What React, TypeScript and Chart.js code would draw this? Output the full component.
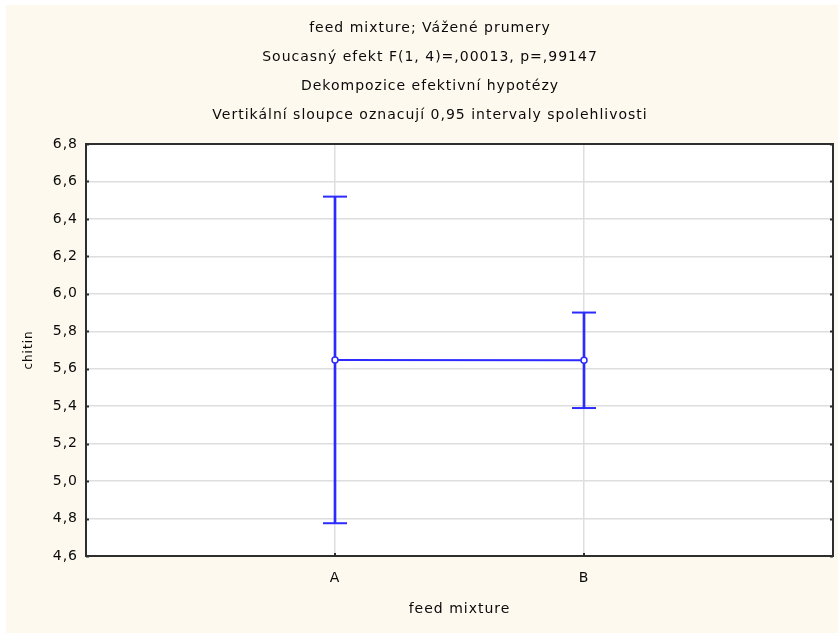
import { useEffect, useRef } from 'react';
import { Chart, registerables } from 'chart.js';

Chart.register(...registerables);

const titleLines = [
  'feed mixture; Vážené prumery',
  'Soucasný efekt F(1, 4)=,00013, p=,99147',
  'Dekompozice efektivní hypotézy',
  'Vertikální sloupce oznacují 0,95 intervaly spolehlivosti',
];
const categories = ['A', 'B'];
const means = [5.647, 5.645];
const lowerCI = [4.775, 5.39];
const upperCI = [6.519, 5.9];
const xTitle = 'feed mixture';
const yTitle = 'chitin';
const yMin = 4.6;
const yMax = 6.8;
const yStep = 0.2;

const BLUE = '#2b2bff';
const GRID = '#dedede';
const TEXT = '#0a0a0a';
const FONT = "'DejaVu Sans', Verdana, sans-serif";

const letterSpacingPlugin = {
  id: 'letterSpacing',
  beforeLayout(chart: any) {
    chart.ctx.letterSpacing = '1px';
  },
  beforeDraw(chart: any) {
    chart.ctx.letterSpacing = '1px';
    const { ctx, chartArea } = chart;
    ctx.save();
    ctx.fillStyle = '#ffffff';
    ctx.fillRect(chartArea.left, chartArea.top, chartArea.right - chartArea.left, chartArea.bottom - chartArea.top);
    ctx.restore();
  },
};

const framePlugin = {
  id: 'frame',
  afterDraw(chart: any) {
    const { ctx, chartArea, scales } = chart;
    const { left, top, right, bottom } = chartArea;
    ctx.save();
    ctx.strokeStyle = '#2e2e2e';
    ctx.lineWidth = 2;
    ctx.strokeRect(left, top, right - left, bottom - top);
    ctx.beginPath();
    scales.y.ticks.forEach((t: any) => {
      const y = Math.round(scales.y.getPixelForValue(t.value)) + 0.5;
      ctx.moveTo(left, y);
      ctx.lineTo(left + 3, y);
      ctx.moveTo(right - 3, y);
      ctx.lineTo(right, y);
    });
    categories.forEach((_, i) => {
      const x = Math.round(scales.x.getPixelForValue(i + 1));
      ctx.moveTo(x, bottom);
      ctx.lineTo(x, bottom - 3);
    });
    ctx.stroke();
    ctx.restore();
  },
};

export default function App() {
  const ref = useRef<HTMLCanvasElement | null>(null);

  useEffect(() => {
    if (!ref.current) return;
    const meanPts = categories.map((_, i) => ({ x: i + 1, y: means[i] }));
    const whiskers = categories.map((_, i) => ({ x: i + 1, y: [lowerCI[i], upperCI[i]] }));
    const caps = [
      ...categories.map((_, i) => ({ x: i + 1, y: lowerCI[i] })),
      ...categories.map((_, i) => ({ x: i + 1, y: upperCI[i] })),
    ];

    const chart = new Chart(ref.current, {
      type: 'line',
      data: {
        datasets: [
          {
            type: 'line',
            label: 'means',
            data: meanPts,
            borderColor: BLUE,
            borderWidth: 2,
            pointRadius: 3,
            pointBackgroundColor: '#ffffff',
            pointBorderColor: BLUE,
            pointBorderWidth: 1.5,
            order: 0,
          },
          {
            type: 'line',
            label: 'caps',
            data: caps,
            showLine: false,
            pointStyle: 'line',
            pointRadius: 12,
            pointBorderWidth: 2,
            borderColor: BLUE,
            borderWidth: 2,
            order: 1,
          },
          {
            type: 'bar',
            label: 'ci',
            data: whiskers as any,
            backgroundColor: BLUE,
            borderWidth: 0,
            barThickness: 2,
            order: 2,
          },
        ] as any,
      },
      options: {
        responsive: false,
        animation: false,
        layout: { autoPadding: false, padding: { left: 21, right: 5, top: 0, bottom: 0 } },
        plugins: {
          legend: { display: false },
          tooltip: { enabled: false },
          title: {
            display: true,
            text: titleLines,
            color: TEXT,
            font: { family: FONT, size: 14, weight: 'normal', lineHeight: '29px' } as any,
            padding: { top: 8.5, bottom: 14.5 },
          },
        },
        scales: {
          x: {
            type: 'linear',
            min: 0,
            max: 3,
            offset: false,
            afterFit: (s: any) => {
              s.height = 77;
              s.paddingLeft = 0;
              s.paddingRight = 0;
            },
            ticks: {
              stepSize: 1,
              autoSkip: false,
              padding: 14,
              color: TEXT,
              font: { family: FONT, size: 14 },
              callback: (v: any) => categories[Number(v) - 1] ?? '',
            },
            grid: {
              offset: false,
              drawTicks: false,
              color: (c: any) => (c.tick && c.tick.value >= 1 && c.tick.value <= categories.length ? GRID : 'rgba(0,0,0,0)'),
              lineWidth: 1.5,
            },
            border: { display: false },
            title: {
              display: true,
              text: xTitle,
              color: TEXT,
              font: { family: FONT, size: 14 },
              padding: { top: 0, bottom: 15.6 },
            },
          },
          y: {
            type: 'linear',
            min: yMin,
            max: yMax,
            afterFit: (s: any) => {
              s.width = 59;
            },
            ticks: {
              stepSize: yStep,
              padding: 8,
              color: TEXT,
              font: { family: FONT, size: 14 },
              callback: (v: any) => Number(v).toFixed(1).replace('.', ','),
            },
            grid: {
              drawTicks: false,
              color: GRID,
              lineWidth: 1.5,
            },
            border: { display: false },
            title: {
              display: true,
              text: yTitle,
              color: TEXT,
              font: { family: FONT, size: 12 },
              padding: { top: -5.7, bottom: 0 },
            },
          },
        },
      },
      plugins: [letterSpacingPlugin, framePlugin],
    } as any);

    return () => chart.destroy();
  }, []);

  return (
    <div
      style={{
        position: 'absolute',
        left: 6,
        top: 5,
        width: 832,
        height: 628,
        background: '#fef9ef',
      }}
    >
      <canvas ref={ref} width={832} height={628} style={{ display: 'block' }} />
    </div>
  );
}
